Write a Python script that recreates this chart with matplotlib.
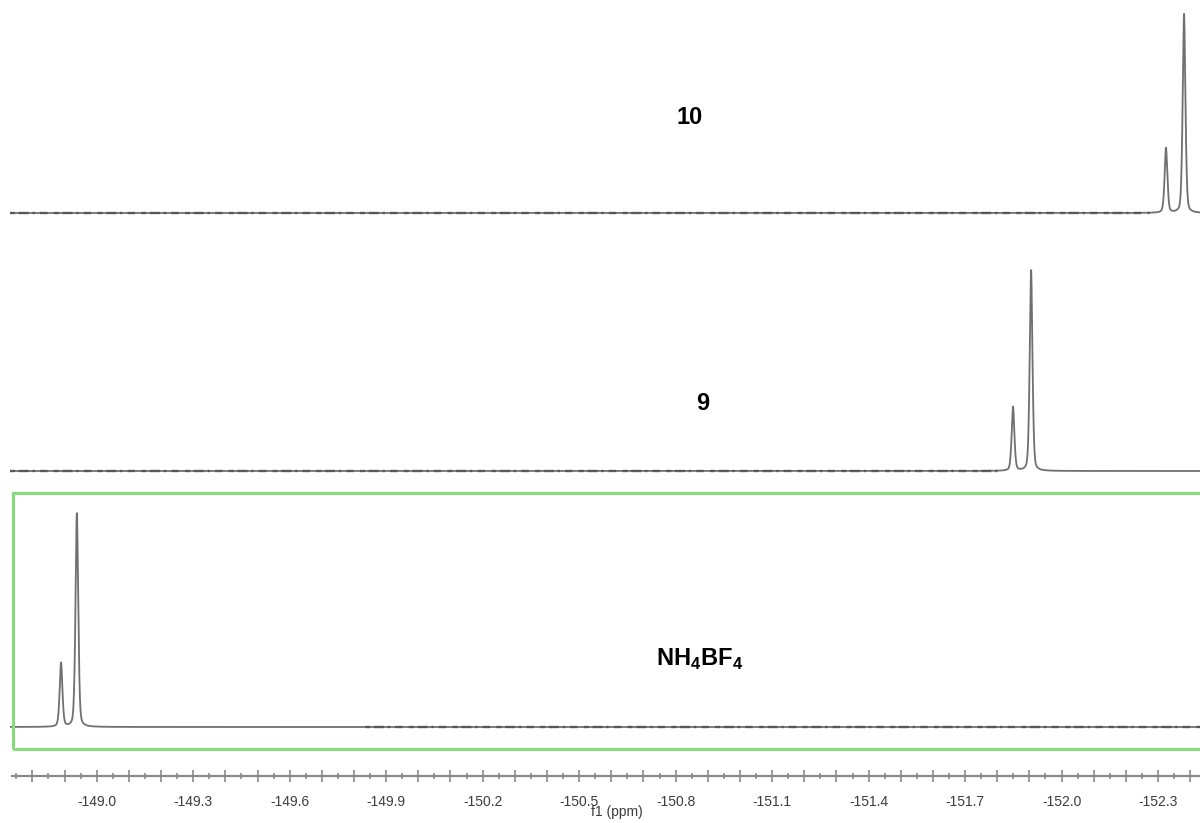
import numpy as np
import matplotlib
matplotlib.use("Agg")
import matplotlib.pyplot as plt
from matplotlib.patches import Rectangle
from matplotlib.ticker import MultipleLocator, FuncFormatter

plt.rcParams["font.family"] = ["Liberation Sans", "DejaVu Sans"]
plt.rcParams["axes.unicode_minus"] = False
plt.rcParams["mathtext.fontset"] = "custom"
plt.rcParams["mathtext.rm"] = "Liberation Sans:bold"
plt.rcParams["mathtext.bf"] = "Liberation Sans:bold"

# Spectrum names (top to bottom)
names = ["10", "9", r"$\mathbf{NH}_\mathbf{4}\mathbf{BF}_\mathbf{4}$"]
# 10B / 11B signal positions (ppm) for each sample
pos_small = [-152.325, -151.851, -148.901]
pos_tall = [-152.381, -151.907, -148.950]
# peak heights (plot units)
h_small = [65, 64, 64]
h_tall = [199, 201, 214]
# stacking offsets of each spectrum's baseline
offsets = [610, 352, 96]
# ppm ranges where the baseline shows noise
noisy = [(-148.74, -152.275), (-148.74, -151.811), (-149.843, -152.44)]

fwhm_g = 0.011
fwhm_l = 0.008
xlim = (-148.7428, -152.4304)
ppm = np.linspace(xlim[0], xlim[1], 8000)


def line_shape(x, x0, h):
    g = np.exp(-4 * np.log(2) * ((x - x0) / fwhm_g) ** 2)
    l = 1.0 / (1.0 + (2.0 * (x - x0) / fwhm_l) ** 2)
    return h * (0.55 * g + 0.45 * l)


W, H = 1200, 823
fig = plt.figure(figsize=(W / 100, H / 100), dpi=100)
ax = fig.add_axes([10 / W, 0, 1 - 10 / W, 1])
ax.set_xlim(*xlim)
ax.set_ylim(0, H)
ax.axis("off")

for i in range(3):
    y = offsets[i] + line_shape(ppm, pos_small[i], h_small[i]) + line_shape(ppm, pos_tall[i], h_tall[i])
    ax.plot(ppm, y, color="#707070", lw=1.3, solid_joinstyle="round", zorder=3)
    a, b = noisy[i]
    m = (ppm <= a) & (ppm >= b)
    ax.plot(ppm[m], np.full(m.sum(), offsets[i]), color="#404040", lw=1.8,
            linestyle=(0, (2, 1.5, 4, 1.5, 1, 2, 3, 2.5)), alpha=0.6, zorder=4)

# highlight box around the reference spectrum
fig.patches.append(Rectangle((12.5 / W, 1 - 749 / H), 1200 / W, (749 - 492.5) / H,
                             transform=fig.transFigure, fill=False,
                             edgecolor="#84dc7c", lw=2.2, zorder=5))

label_xy = [(690, 118), (703, 403), (700, 659)]
for name, (px, py) in zip(names, label_xy):
    fig.text(px / W, 1 - py / H, name, ha="center", va="center",
             fontsize=17, fontweight="bold", color="black")

# ppm axis
axx = fig.add_axes([12 / W, 1 - 776 / H, 1188 / W, 0.0001])
axx.set_xlim(-148.7428 + (2 / 322.7), xlim[1])
for s in ["top", "left", "right"]:
    axx.spines[s].set_visible(False)
axx.spines["bottom"].set_color("#8a8a8a")
axx.spines["bottom"].set_linewidth(1.6)
axx.set_yticks([])
axx.xaxis.set_major_locator(MultipleLocator(0.1))
axx.xaxis.set_minor_locator(MultipleLocator(0.05))


def fmt(v, _):
    k = round((-149.0 - v) / 0.3, 6)
    if abs(k - round(k)) < 1e-4:
        return f"{v:.1f}"
    return ""


axx.xaxis.set_major_formatter(FuncFormatter(fmt))
axx.tick_params(axis="x", which="major", direction="inout", length=9, width=1.2,
                color="#8a8a8a", pad=9, labelsize=10, labelcolor="#3c3c3c")
axx.tick_params(axis="x", which="minor", direction="inout", length=5, width=1.2,
                color="#8a8a8a")
fig.text(617 / W, 1 - 812 / H, "f1 (ppm)", ha="center", va="center",
         fontsize=10, color="#3c3c3c")

fig.savefig("out.png", dpi=100)
